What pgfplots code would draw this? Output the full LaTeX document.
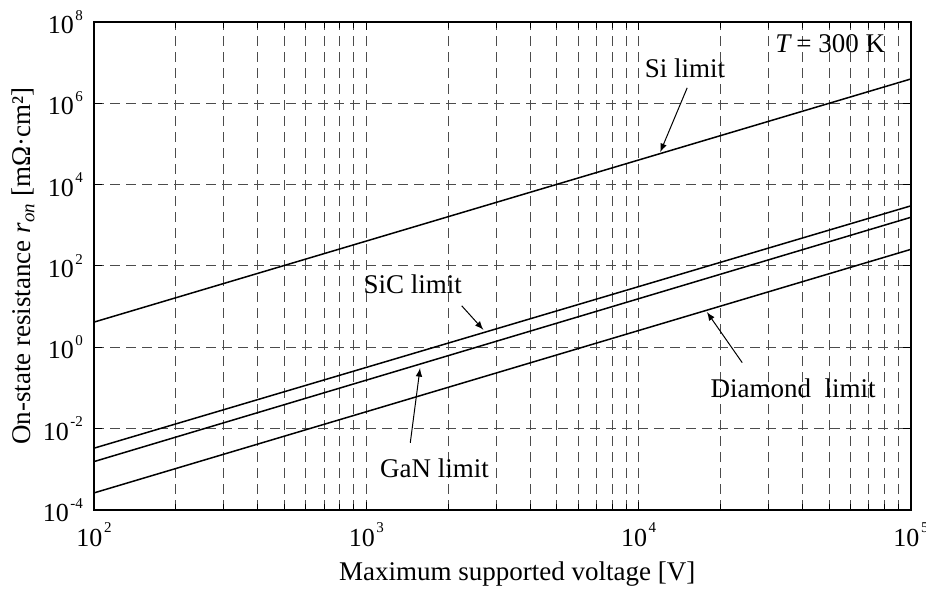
\documentclass[border=0pt]{standalone}
\usepackage{fontspec}
\setmainfont{Liberation Serif}
\usepackage{pgfplots}
\pgfplotsset{compat=1.18}
\newcommand\ex[1]{\hspace{0.8pt}\raisebox{6.8pt}{\fontsize{7.5}{9}\selectfont #1}}
\begin{document}
\begin{tikzpicture}[x=0.5pt,y=0.5pt]
\begin{axis}[
  at={(0,0)}, anchor=south west,
  scale only axis,
  width=408.5pt, height=244pt,
  xmode=log, ymode=log, log basis x=10, log basis y=10,
  xmin=1e2, xmax=1e5, ymin=1e-4, ymax=1e8,
  xtick={1e2,1e3,1e4,1e5},
  minor xtick={200,300,400,500,600,700,800,900,2000,3000,4000,5000,6000,7000,8000,9000,20000,30000,40000,50000,60000,70000,80000,90000},
  xticklabels={10\ex{2},10\ex{3},10\ex{4},10\ex{5}},
  ytick={1e-4,1e-2,1e0,1e2,1e4,1e6,1e8},
  yticklabels={10\ex{-4},10\ex{-2},10\ex{0},10\ex{2},10\ex{4},10\ex{6},10\ex{8}},
  yminorticks=false,
  xmajorgrids, xminorgrids, ymajorgrids,
  grid style={dash pattern=on 5pt off 3pt, black!70, line width=0.5pt},
  minor grid style={dash pattern=on 5pt off 3pt, black!70, line width=0.5pt},
  axis line style={line width=1pt},
  tick style={black, line width=0.5pt},
  major tick length=4pt, minor tick length=3pt,
  tick label style={font=\fontsize{13}{16}\selectfont},
  xticklabel style={yshift=-3pt},
  yticklabel style={xshift=-2pt},
  label style={font=\fontsize{13.5}{16}\selectfont},
  xlabel={Maximum supported voltage [V]},
  ylabel={On-state resistance \textit{r}\textsubscript{\textit{on}} [mΩ·cm²]},
  xlabel style={at={(axis description cs:0.518,-0.131)}, anchor=center},
  ylabel style={at={(axis description cs:-0.087,0.5)}, anchor=center},
  clip=true,
]
\addplot[black, line width=0.75pt] coordinates {(1e2,4.17) (1e5,3.98e6)};
\addplot[black, line width=0.75pt] coordinates {(1e2,3.31e-3) (1e5,3.02e3)};
\addplot[black, line width=0.75pt] coordinates {(1e2,1.55e-3) (1e5,1.58e3)};
\addplot[black, line width=0.75pt] coordinates {(1e2,2.63e-4) (1e5,2.57e2)};
\node[font=\fontsize{13.5}{16}\selectfont] at (axis cs:14800,7.4e6) {Si limit};
\draw[-latex, line width=0.5pt] (axis cs:15070,2.4e6) -- (axis cs:12000,6.3e4);
\node[font=\fontsize{13.5}{16}\selectfont] at (axis cs:1480,36) {SiC limit};
\draw[-latex, line width=0.5pt] (axis cs:2240,10.5) -- (axis cs:2690,2.7);
\node[font=\fontsize{13.5}{16}\selectfont] at (axis cs:1780,1.07e-3) {GaN limit};
\draw[-latex, line width=0.5pt] (axis cs:1450,4.5e-3) -- (axis cs:1575,0.31);
\node[font=\fontsize{13.5}{16}\selectfont] at (axis cs:36900,0.1) {Diamond\ \ limit};
\draw[-latex, line width=0.5pt] (axis cs:24000,0.42) -- (axis cs:17800,7.4);
\node[font=\fontsize{13.5}{16}\selectfont] at (axis cs:50500,2.9e7) {\textit{T}\,= 300 K};
\end{axis}
\pgfresetboundingbox
\path[use as bounding box] (-94,-82) rectangle (832,510);
\end{tikzpicture}
\end{document}
